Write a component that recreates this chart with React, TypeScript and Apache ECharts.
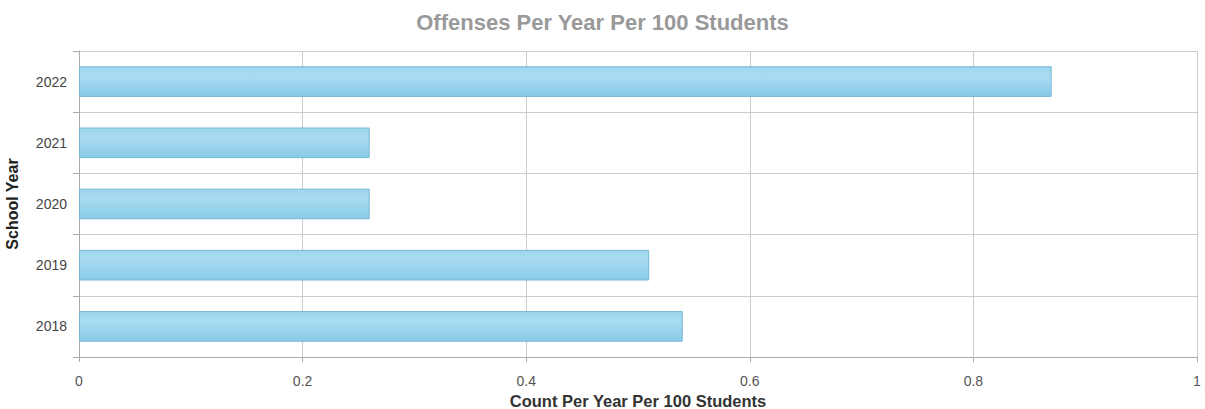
import React, { useEffect, useRef } from "react";
import * as echarts from "echarts";

const categories = ["2018", "2019", "2020", "2021", "2022"];
const values = [0.54, 0.51, 0.26, 0.26, 0.87];
const xTicks = [0, 0.2, 0.4, 0.6, 0.8, 1];

export default function App() {
  const ref = useRef<HTMLDivElement>(null);
  useEffect(() => {
    document.body.style.margin = "0";
    const chart = echarts.init(ref.current!, null, { renderer: "svg" });
    chart.setOption({
      animation: false,
      textStyle: { fontFamily: "Liberation Sans, Arial, sans-serif" },
      title: {
        text: "Offenses Per Year Per 100 Students",
        left: "center",
        top: 6,
        textStyle: { fontSize: 22, fontWeight: "bold", color: "#999999", fontFamily: "Liberation Sans, Arial, sans-serif" },
      },
      grid: { left: 79, right: 8, top: 51, bottom: 52, containLabel: false, outerBoundsMode: "none" },
      xAxis: {
        type: "value",
        min: xTicks[0],
        max: xTicks[xTicks.length - 1],
        interval: 0.2,
        name: "Count Per Year Per 100 Students",
        nameLocation: "middle",
        nameGap: 31,
        nameTextStyle: { fontSize: 16.5, fontWeight: "bold", color: "#333333" },
        axisLine: { show: true, lineStyle: { color: "#aaaaaa", width: 1 } },
        axisTick: { show: true, length: 5, lineStyle: { color: "#aaaaaa" } },
        axisLabel: { fontSize: 14, color: "#555555", margin: 17 },
        splitLine: { show: true, lineStyle: { color: "#cccccc", width: 1 } },
      },
      yAxis: {
        type: "category",
        data: categories,
        name: "School Year",
        nameLocation: "middle",
        nameGap: 59,
        nameRotate: 90,
        nameTextStyle: { fontSize: 16, fontWeight: "bold", color: "#222222" },
        axisLine: { show: true, lineStyle: { color: "#aaaaaa", width: 1 } },
        axisTick: { show: true, length: 6, lineStyle: { color: "#aaaaaa" } },
        axisLabel: { fontSize: 14, color: "#444444", margin: 12 },
        splitLine: { show: true, lineStyle: { color: "#cccccc", width: 1 } },
      },
      series: [
        {
          type: "bar",
          data: values,
          barWidth: "50%",
          itemStyle: {
            color: new echarts.graphic.LinearGradient(0, 0, 0, 1, [
              { offset: 0, color: "#9dd6ee" },
              { offset: 0.3, color: "#aadcf1" },
              { offset: 1, color: "#88cbe7" },
            ]),
            borderColor: "#78b6d3",
            borderWidth: 1,
          },
        },
      ],
    });
    return () => chart.dispose();
  }, []);
  return <div ref={ref} style={{ width: 1205, height: 409 }} />;
}
